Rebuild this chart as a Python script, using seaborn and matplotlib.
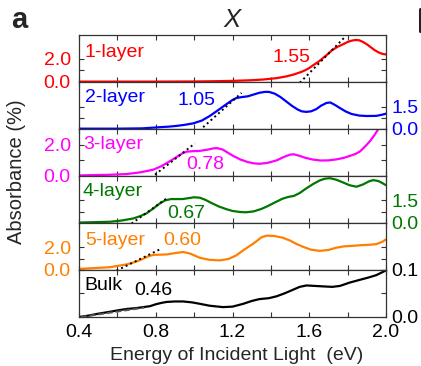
import matplotlib
matplotlib.use("Agg")
import matplotlib.pyplot as plt
from matplotlib.lines import Line2D
import seaborn as sns
import pandas as pd
from matplotlib.ticker import MultipleLocator

# ---------------- data ----------------
labels = ["1-layer", "2-layer", "3-layer", "4-layer", "5-layer", "Bulk"]
colors = ["#ff0000", "#0000ff", "#ff00ff", "#007800", "#ff8000", "#000000"]
gaps = ["1.55", "1.05", "0.78", "0.67", "0.60", "0.46"]

E1 = [0.40, 0.60, 0.80, 1.00, 1.10, 1.20, 1.30, 1.36, 1.43, 1.48, 1.52, 1.56, 1.58, 1.60,
      1.62, 1.65, 1.69, 1.72, 1.75, 1.78, 1.80, 1.82, 1.84, 1.86, 1.88, 1.90, 1.92, 1.94,
      1.96, 1.98, 2.00]
A1 = [0.00, 0.00, 0.00, 0.01, 0.03, 0.06, 0.12, 0.18, 0.30, 0.45, 0.62, 0.85, 1.00, 1.18,
      1.42, 1.75, 2.30, 2.75, 3.05, 3.28, 3.45, 3.56, 3.62, 3.60, 3.45, 3.25, 3.00, 2.75,
      2.55, 2.42, 2.36]

E2 = [0.40, 0.60, 0.73, 0.82, 0.87, 0.91, 0.95, 0.995, 1.04, 1.08, 1.11, 1.14, 1.17, 1.20,
      1.22, 1.25, 1.28, 1.31, 1.34, 1.37, 1.39, 1.42, 1.45, 1.48, 1.51, 1.54, 1.56, 1.585,
      1.61, 1.637, 1.66, 1.69, 1.71, 1.733, 1.76, 1.79, 1.82, 1.86, 1.90, 1.95, 1.98, 2.00]
A2 = [0.00, 0.00, 0.02, 0.10, 0.14, 0.19, 0.26, 0.36, 0.55, 0.85, 1.12, 1.40, 1.68, 1.95,
      2.08, 2.15, 2.20, 2.32, 2.44, 2.50, 2.50, 2.38, 2.15, 1.85, 1.55, 1.30, 1.18, 1.14,
      1.18, 1.33, 1.55, 1.75, 1.78, 1.62, 1.40, 1.17, 1.00, 0.89, 0.86, 0.87, 0.95, 1.02]

E3 = [0.40, 0.55, 0.648, 0.72, 0.787, 0.83, 0.874, 0.917, 0.94, 0.961, 0.99, 1.03, 1.07,
      1.10, 1.12, 1.15, 1.18, 1.20, 1.24, 1.28, 1.31, 1.34, 1.38, 1.43, 1.47, 1.50, 1.52,
      1.55, 1.58, 1.62, 1.66, 1.70, 1.74, 1.78, 1.81, 1.84, 1.864, 1.88, 1.90, 1.92, 1.94,
      1.96, 1.98]
A3 = [0.02, 0.06, 0.11, 0.22, 0.39, 0.62, 0.94, 1.27, 1.45, 1.55, 1.58, 1.60, 1.68,
      1.76, 1.78, 1.68, 1.45, 1.30, 1.05, 0.88, 0.80, 0.77, 0.82, 0.99, 1.22, 1.36, 1.38,
      1.28, 1.15, 1.04, 0.98, 0.99, 1.05, 1.15, 1.27, 1.40, 1.56, 1.75, 2.00, 2.28, 2.62,
      3.00, 3.40]

E4 = [0.40, 0.56, 0.62, 0.683, 0.72, 0.752, 0.79, 0.82, 0.85, 0.88, 0.909, 0.94, 0.97,
      1.00, 1.03, 1.06, 1.09, 1.13, 1.17, 1.20, 1.24, 1.27, 1.31, 1.35, 1.38, 1.42, 1.46,
      1.49, 1.52, 1.55, 1.58, 1.62, 1.655, 1.68, 1.707, 1.74, 1.777, 1.81, 1.846, 1.88,
      1.91, 1.933, 1.96, 1.98, 2.00]
A4 = [0.02, 0.07, 0.15, 0.29, 0.45, 0.63, 0.98, 1.28, 1.50, 1.58, 1.58, 1.58, 1.64,
      1.70, 1.67, 1.52, 1.32, 1.08, 0.90, 0.79, 0.72, 0.70, 0.76, 0.92, 1.09, 1.35, 1.60,
      1.72, 1.79, 1.98, 2.25, 2.58, 2.82, 2.93, 2.97, 2.87, 2.68, 2.50, 2.40, 2.55,
      2.75, 2.84, 2.78, 2.65, 2.50]

E5 = [0.40, 0.56, 0.648, 0.70, 0.735, 0.76, 0.787, 0.82, 0.857, 0.90, 0.943, 0.98, 1.03,
      1.08, 1.134, 1.18, 1.22, 1.26, 1.31, 1.35, 1.378, 1.42, 1.46, 1.50, 1.535, 1.568,
      1.61, 1.655, 1.70, 1.74, 1.78, 1.82, 1.864, 1.91, 1.95, 1.98, 2.00]
A5 = [0.09, 0.24, 0.49, 0.75, 1.00, 1.20, 1.34, 1.36, 1.38, 1.50, 1.60, 1.45, 1.08,
      0.90, 0.85, 0.98, 1.30, 1.80, 2.36, 2.90, 3.06, 3.02, 2.88, 2.62, 2.30, 2.06,
      1.80, 1.70, 1.78, 1.98, 2.10, 2.14, 2.20, 2.24, 2.30, 2.50, 2.72]

E6 = [0.40, 0.45, 0.50, 0.56, 0.60, 0.648, 0.70, 0.735, 0.77, 0.80, 0.83, 0.857, 0.90,
      0.943, 0.99, 1.03, 1.08, 1.15, 1.20, 1.256, 1.30, 1.34, 1.39, 1.43, 1.47, 1.516,
      1.55, 1.586, 1.63, 1.672, 1.72, 1.76, 1.81, 1.864, 1.91, 1.95, 1.98, 2.00]
A6 = [0.000, 0.003, 0.007, 0.011, 0.014, 0.017, 0.019, 0.021, 0.023, 0.027, 0.030, 0.032,
      0.033, 0.033, 0.031, 0.028, 0.024, 0.021, 0.022, 0.028, 0.034, 0.038, 0.040, 0.044,
      0.050, 0.058, 0.064, 0.067, 0.066, 0.065, 0.064, 0.066, 0.073, 0.079, 0.084, 0.089,
      0.095, 0.099]

# linear fits (dotted lines): end points
FIT_E = [[1.551, 1.790], [1.047, 1.247], [0.796, 1.004], [0.674, 0.865], [0.596, 0.820], [0.41, 0.74]]
FIT_A = [[-0.10, 3.95], [0.10, 2.43], [0.07, 2.08], [-0.05, 1.70], [-0.06, 1.82], [0.000, 0.020]]

energies = [E1, E2, E3, E4, E5, E6]
absorb = [A1, A2, A3, A4, A5, A6]

y_limits = [(0, 4.1), (0, 3.2), (0, 3.03), (0, 3.13), (0, 4.2), (0, 0.1)]
y_ticks = [[0, 1, 2], [0, 0.75, 1.5], [0, 1, 2], [0, 0.75, 1.5], [0, 1, 2], [0, 0.05, 0.1]]
y_ticklabels = [["0.0", "", "2.0"], ["0.0", "", "1.5"], ["0.0", "", "2.0"],
                ["0.0", "", "1.5"], ["0.0", "", "2.0"], ["0.0", "", "0.1"]]
right_side = [False, True, False, True, False, True]

x_ticks = [0.4, 0.8, 1.2, 1.6, 2.0]
x_ticklabels = ["0.4", "0.8", "1.2", "1.6", "2.0"]

# layout of the text (positions in data units)
name_pos = [(0.43, 2.57), (0.43, 2.10), (0.42, 2.00), (0.42, 2.06), (0.43, 2.62), (0.43, 0.066)]
gap_pos = [(1.51, 2.10), (1.01, 1.92), (1.06, 0.72), (0.96, 0.63), (0.94, 2.66), (0.785, 0.057)]

# ---------------- plotting ----------------
sns.set_style("ticks")
plt.rcParams["font.family"] = ["Liberation Sans", "DejaVu Sans"]

fig, axes = plt.subplots(6, 1, figsize=(4.21, 3.66), dpi=100, sharex=True)
fig.subplots_adjust(left=79 / 421, right=386 / 421, top=1 - 34.5 / 366,
                    bottom=1 - 317 / 366, hspace=0)

for i, ax in enumerate(axes):
    df = pd.DataFrame({"E": energies[i], "A": absorb[i]})
    sns.lineplot(data=df, x="E", y="A", ax=ax, color=colors[i], lw=1.6,
                 sort=False, estimator=None)
    fit_ls = (0, (1, 1.6)) if i < 5 else (0, (3, 1.5))
    fit_col = "black" if i < 5 else "#555555"
    ax.plot(FIT_E[i], FIT_A[i], ls=fit_ls, color=fit_col, lw=1.4, clip_on=(i == 5), zorder=3)

    ax.set_xlim(0.4, 2.0)
    ax.set_ylim(*y_limits[i])
    ax.set_yticks(y_ticks[i])
    ax.set_yticklabels(y_ticklabels[i])
    ax.set_xlabel("")
    ax.set_ylabel("")
    ax.xaxis.set_major_locator(MultipleLocator(0.4))
    ax.xaxis.set_minor_locator(MultipleLocator(0.2))
    ax.tick_params(axis="both", which="both", direction="in", length=3.5, width=0.8,
                   top=True, bottom=True, left=True, right=True, colors="#333333")
    ax.tick_params(axis="x", which="both", labelbottom=(i == 5), labelsize=14,
                   labelcolor="black", pad=5)
    if right_side[i]:
        ax.tick_params(axis="y", labelleft=False, labelright=True, labelsize=14,
                       labelcolor=colors[i], pad=4)
    else:
        ax.tick_params(axis="y", labelleft=True, labelright=False, labelsize=14,
                       labelcolor=colors[i], pad=6)
    for sp in ax.spines.values():
        sp.set_visible(True)
        sp.set_color("#333333")
        sp.set_linewidth(0.9)

    ax.text(name_pos[i][0], name_pos[i][1], labels[i], color=colors[i], fontsize=14,
            ha="left", va="center")
    ax.text(gap_pos[i][0], gap_pos[i][1], gaps[i], color=colors[i], fontsize=14,
            ha="center", va="center")

axes[-1].set_xticks(x_ticks)
axes[-1].set_xticklabels(x_ticklabels)

fig.text(236.5 / 421, 1 - 355 / 366, "Energy of Incident Light  (eV)", fontsize=14,
         ha="center", va="center")
fig.text(17 / 421, 1 - 172 / 366, "Absorbance (%)", fontsize=14.5, rotation=90,
         ha="center", va="center")
fig.text(232.5 / 421, 1 - 20 / 366, "X", fontsize=18.5, style="italic",
         ha="center", va="center")
fig.text(11 / 421, 1 - 20 / 366, "a", fontsize=21, weight="bold",
         ha="left", va="center")
# stem of the next panel's letter, cut off at the right edge
fig.add_artist(Line2D([419.8 / 421, 419.8 / 421], [1 - 9 / 366, 1 - 31 / 366],
                      transform=fig.transFigure, color="#222222", lw=2.2))

fig.savefig("out.png", dpi=100)
